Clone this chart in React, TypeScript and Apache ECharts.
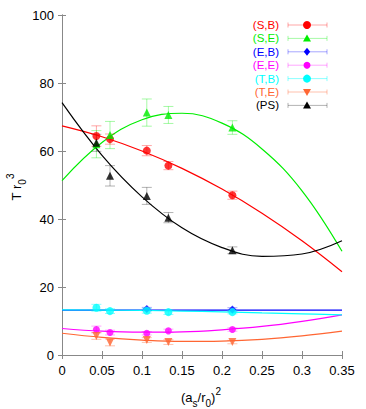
import React, { useEffect, useRef } from "react";
import * as echarts from "echarts";

const names = ["(S,B)", "(S,E)", "(E,B)", "(E,E)", "(T,B)", "(T,E)", "(PS)"];
const colors = ["#ff0000", "#00ee00", "#0000ff", "#ff00ff", "#00ffff", "#ff6633", "#000000"];
const errColors = [
  "rgba(255,0,0,0.35)",
  "rgba(0,238,0,0.35)",
  "rgba(0,0,255,0.35)",
  "rgba(255,0,255,0.35)",
  "rgba(0,255,255,0.45)",
  "rgba(255,102,51,0.4)",
  "rgba(0,0,0,0.3)",
];
const symbols = ["circle", "triangle", "diamond", "circle", "circle", "triangle", "triangle"];
const symbolSizes = [8, 8, 8, 7, 8, 8, 8];
const symbolRotates = [0, 0, 0, 0, 0, 180, 0];

// data points (x = (a_s/r_0)^2)
const xPts = [0.043, 0.060, 0.106, 0.133, 0.213];
const xEB = [0.106, 0.213];

const sbY = [64.4, 63.5, 60.1, 55.7, 47.0];
const sbErr = [3.0, 1.5, 1.5, 1.2, 1.2];
const seY = [62.0, 64.7, 71.3, 70.6, 66.9];
const seErr = [4.0, 4.0, 4.0, 2.5, 2.0];
const ebY = [13.5, 13.4];
const ebErr = [0.5, 0.5];
const eeY = [7.5, 6.6, 6.4, 7.1, 7.5];
const eeErr = [1.0, 0.7, 0.5, 0.5, 0.5];
const tbY = [13.9, 12.9, 13.0, 12.6, 12.6];
const tbErr = [1.0, 0.7, 0.7, 0.7, 0.5];
const teY = [5.6, 3.7, 4.4, 3.8, 3.8];
const teErr = [1.0, 1.0, 0.7, 0.7, 0.5];
const psY = [62.4, 52.7, 46.8, 40.4, 30.8];
const psErr = [2.5, 3.0, 2.5, 1.5, 1.0];

// fit curves, read at these x positions
const fitX = [0, 0.05, 0.1, 0.15, 0.2, 0.25, 0.3, 0.35];
const sbFit = [67.4, 64.2, 60.0, 54.9, 48.8, 41.7, 33.6, 24.5];
const seFit = [51.3, 62.5, 69.2, 71.1, 68.2, 60.6, 48.3, 30.5];
const ebFit = [13.2, 13.2, 13.2, 13.2, 13.2, 13.2, 13.2, 13.2];
const eeFit = [7.8, 7.0, 6.7, 6.8, 7.4, 8.4, 9.9, 11.8];
const tbFit = [13.3, 13.2, 13.1, 12.9, 12.7, 12.4, 12.1, 11.8];
const teFit = [6.4, 5.2, 4.4, 4.0, 4.1, 4.6, 5.6, 7.0];
const psFit = [74.2, 58.7, 46.5, 37.4, 31.6, 29.0, 29.7, 33.6];

const xTicks = { min: 0, max: 0.35, interval: 0.05 };
const yTicks = { min: 0, max: 100, interval: 20 };

const FONT = "Liberation Sans, Arial, Helvetica, sans-serif";

export default function App() {
  const ref = useRef<HTMLDivElement>(null);
  useEffect(() => {
    if (!ref.current) return;
    const chart = echarts.init(ref.current, undefined, { renderer: "svg" });

    const sets = [
      { x: xPts, y: sbY, e: sbErr, fit: sbFit },
      { x: xPts, y: seY, e: seErr, fit: seFit },
      { x: xEB, y: ebY, e: ebErr, fit: ebFit },
      { x: xPts, y: eeY, e: eeErr, fit: eeFit },
      { x: xPts, y: tbY, e: tbErr, fit: tbFit },
      { x: xPts, y: teY, e: teErr, fit: teFit },
      { x: xPts, y: psY, e: psErr, fit: psFit },
    ];

    const series: any[] = [];
    sets.forEach((s, i) => {
      series.push({
        type: "line",
        name: names[i] + " fit",
        data: fitX.map((x, k) => [x, s.fit[k]]),
        smooth: 0.4,
        symbol: "none",
        lineStyle: { color: colors[i], width: 1.2 },
        z: 2,
        silent: true,
      });
    });
    sets.forEach((s, i) => {
      series.push({
        type: "custom",
        name: names[i] + " err",
        data: s.x.map((x, k) => [x, s.y[k], s.e[k]]),
        encode: { x: 0, y: 1 },
        z: 3,
        silent: true,
        renderItem: (params: any, api: any) => {
          const x = api.value(0);
          const y = api.value(1);
          const e = api.value(2);
          const top = api.coord([x, y + e]);
          const bot = api.coord([x, y - e]);
          const hw = 5;
          const st = { stroke: errColors[i], lineWidth: 1 };
          return {
            type: "group",
            children: [
              { type: "line", shape: { x1: top[0], y1: top[1], x2: bot[0], y2: bot[1] }, style: st },
              { type: "line", shape: { x1: top[0] - hw, y1: top[1], x2: top[0] + hw, y2: top[1] }, style: st },
              { type: "line", shape: { x1: bot[0] - hw, y1: bot[1], x2: bot[0] + hw, y2: bot[1] }, style: st },
            ],
          };
        },
      });
    });
    sets.forEach((s, i) => {
      series.push({
        type: "scatter",
        name: names[i],
        data: s.x.map((x, k) => [x, s.y[k]]),
        symbol: symbols[i],
        symbolSize: symbolSizes[i],
        symbolRotate: symbolRotates[i],
        itemStyle: { color: colors[i] },
        z: 4,
        silent: true,
      });
    });

    // legend drawn as graphic
    const legendEls: any[] = [];
    names.forEach((n, i) => {
      const y = 25 + i * 13.4;
      legendEls.push({
        type: "text",
        x: 279,
        y,
        style: {
          text: n,
          fill: colors[i],
          font: `11.5px ${FONT}`,
          lineHeight: 12,
          align: "right",
          verticalAlign: "middle",
        },
      });
      const st = { stroke: errColors[i], lineWidth: 1 };
      legendEls.push({ type: "line", shape: { x1: 288, y1: y, x2: 327, y2: y }, style: st });
      legendEls.push({ type: "line", shape: { x1: 288, y1: y - 2.5, x2: 288, y2: y + 2.5 }, style: st });
      legendEls.push({ type: "line", shape: { x1: 327, y1: y - 2.5, x2: 327, y2: y + 2.5 }, style: st });
      const mx = 307;
      const sym = symbols[i];
      const fill = { fill: colors[i] };
      if (sym === "circle") {
        legendEls.push({ type: "circle", shape: { cx: mx, cy: y, r: symbolSizes[i] / 2 }, style: fill });
      } else if (sym === "diamond") {
        legendEls.push({
          type: "polygon",
          shape: { points: [[mx, y - 4], [mx + 3.2, y], [mx, y + 4], [mx - 3.2, y]] },
          style: fill,
        });
      } else if (symbolRotates[i] === 180) {
        legendEls.push({
          type: "polygon",
          shape: { points: [[mx - 4, y - 3], [mx + 4, y - 3], [mx, y + 4]] },
          style: fill,
        });
      } else {
        legendEls.push({
          type: "polygon",
          shape: { points: [[mx, y - 4], [mx + 4, y + 3], [mx - 4, y + 3]] },
          style: fill,
        });
      }
    });

    const axisCommon = {
      type: "value",
      axisLine: { show: true, lineStyle: { color: "#888888", width: 1 } },
      axisTick: { show: true, inside: true, length: 4, lineStyle: { color: "#888888" } },
      splitLine: { show: false },
    };

    chart.setOption({
      animation: false,
      backgroundColor: "#ffffff",
      grid: { left: 62, right: 24, top: 15, bottom: 54, containLabel: false },
      xAxis: [
        {
          ...axisCommon,
          ...xTicks,
          position: "bottom",
          axisLabel: {
            color: "#000",
            fontSize: 13,
            fontFamily: FONT,
            margin: 9,
            formatter: (v: number) => String(+v.toFixed(2)),
          },
        },
        { ...axisCommon, ...xTicks, position: "top", axisLabel: { show: false } },
      ],
      yAxis: [
        {
          ...axisCommon,
          ...yTicks,
          position: "left",
          axisLabel: { color: "#000", fontSize: 13, fontFamily: FONT, margin: 8 },
        },
        { ...axisCommon, ...yTicks, position: "right", axisLabel: { show: false } },
      ],
      series,
      graphic: [
        ...legendEls,
        {
          type: "text",
          x: 16,
          y: 187,
          rotation: Math.PI / 2,
          style: {
            text: "{m|T r}{s|0}{p|3}",
            align: "center",
            verticalAlign: "middle",
            fill: "#000",
            font: `13px ${FONT}`,
            rich: {
              m: { fontSize: 13, fontFamily: FONT, lineHeight: 22, fill: "#000" },
              s: { fontSize: 10, fontFamily: FONT, lineHeight: 12, verticalAlign: "bottom", fill: "#000" },
              p: { fontSize: 10, fontFamily: FONT, lineHeight: 12, verticalAlign: "top", fill: "#000" },
            },
          },
        },
        {
          type: "text",
          x: 201,
          y: 397,
          style: {
            text: "{m|(a}{s|s}{m|/r}{s|0}{m|)}{p|2}",
            align: "center",
            verticalAlign: "middle",
            fill: "#000",
            font: `13px ${FONT}`,
            rich: {
              m: { fontSize: 13, fontFamily: FONT, lineHeight: 22, fill: "#000" },
              s: { fontSize: 10, fontFamily: FONT, lineHeight: 12, verticalAlign: "bottom", fill: "#000" },
              p: { fontSize: 10, fontFamily: FONT, lineHeight: 12, verticalAlign: "top", fill: "#000" },
            },
          },
        },
      ],
    });
    return () => chart.dispose();
  }, []);
  return (
    <div
      ref={ref}
      style={{ position: "fixed", left: 0, top: 0, width: 366, height: 409, background: "#fff" }}
    />
  );
}
